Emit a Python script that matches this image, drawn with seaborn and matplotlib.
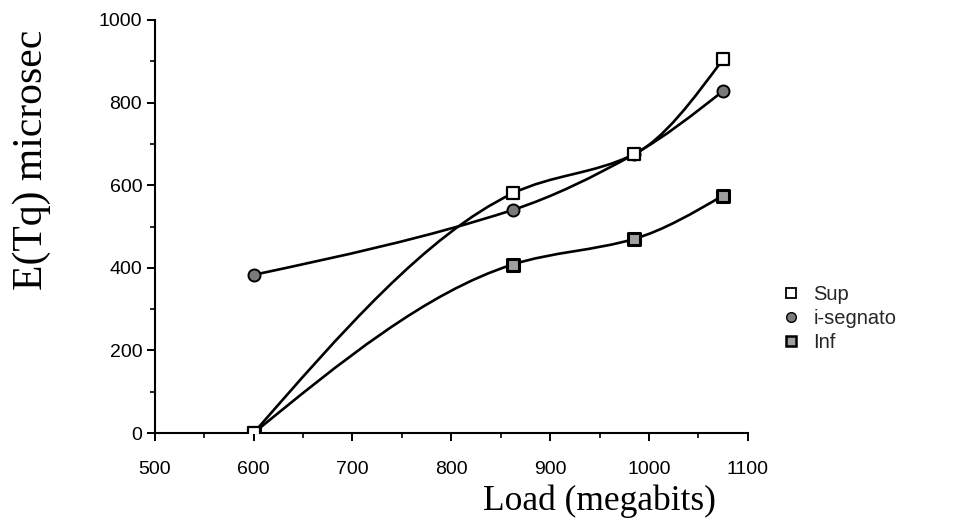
import numpy as np
import pandas as pd
import matplotlib
matplotlib.use("Agg")
import matplotlib.pyplot as plt
from matplotlib.path import Path
from matplotlib.patches import PathPatch
from matplotlib.lines import Line2D
from matplotlib.ticker import MultipleLocator
import seaborn as sns

# Measured queueing delay against offered load
load = [600, 862, 985, 1075]
sup = [0, 580, 675, 905]
i_segnato = [383, 540, 675, 828]
inf = [0, 408, 470, 575]
series_names = ["Sup", "i-segnato", "Inf"]

sns.set_theme(style="white")
plt.rcParams["font.family"] = ["Liberation Sans", "DejaVu Sans"]

fig = plt.figure(figsize=(9.55, 5.25), dpi=100)
ax = fig.add_axes([0.162, 0.175, 0.621, 0.787])


def smooth_path(xs, ys):
    """Piecewise cubic Hermite curve y(x) through every point, as Bezier segments."""
    x = np.asarray(xs, float)
    y = np.asarray(ys, float)
    n = len(x)
    dx = np.diff(x)
    s = np.diff(y) / dx
    m = np.zeros(n)
    for i in range(1, n - 1):
        if s[i - 1] * s[i] > 0:
            m[i] = 2 * s[i - 1] * s[i] / (s[i - 1] + s[i])
    m[0] = (3 * s[0] - m[1]) / 2
    m[-1] = (3 * s[-1] - m[-2]) / 2
    verts = [(x[0], y[0])]
    codes = [Path.MOVETO]
    for i in range(n - 1):
        h = dx[i] / 3
        verts += [(x[i] + h, y[i] + m[i] * h),
                  (x[i + 1] - h, y[i + 1] - m[i + 1] * h),
                  (x[i + 1], y[i + 1])]
        codes += [Path.CURVE4] * 3
    return Path(verts, codes)


styles = {
    "Inf": dict(y=inf, marker="s", face="#a0a0a0", lw=2.2),
    "i-segnato": dict(y=i_segnato, marker="o", face="#7a7a7a", lw=1.4),
    "Sup": dict(y=sup, marker="s", face="white", lw=1.6),
}

for name in ["Inf", "i-segnato", "Sup"]:
    st = styles[name]
    ax.add_patch(PathPatch(smooth_path(load, st["y"]), fill=False,
                           edgecolor="black", linewidth=1.9, zorder=2))
    df = pd.DataFrame({"load": load, "delay": st["y"]})
    sns.scatterplot(data=df, x="load", y="delay", ax=ax, marker=st["marker"],
                    color=st["face"], edgecolor="black", linewidth=st["lw"],
                    s=75, zorder=3, legend=False)

ax.set_xlim(500, 1100)
ax.set_ylim(0, 1000)
ax.xaxis.set_major_locator(MultipleLocator(100))
ax.xaxis.set_minor_locator(MultipleLocator(50))
ax.yaxis.set_major_locator(MultipleLocator(200))
ax.yaxis.set_minor_locator(MultipleLocator(100))

for side in ["top", "right"]:
    ax.spines[side].set_visible(False)
for side in ["left", "bottom"]:
    ax.spines[side].set_color("black")
    ax.spines[side].set_linewidth(1.5)

ax.tick_params(which="major", direction="out", length=6, width=1.4,
               colors="black", labelsize=14, bottom=True, left=True)
ax.tick_params(which="minor", direction="out", length=3.5, width=1.2,
               colors="black", bottom=True, left=True)
ax.tick_params(axis="x", pad=14)
ax.tick_params(axis="y", pad=3)

ax.set_xlabel("Load (megabits)", fontsize=25.5, family="Liberation Serif",
              color="black")
ax.xaxis.set_label_coords(0.75, -0.125)
ax.set_ylabel("E(Tq) microsec", fontsize=30, family="Liberation Serif",
              color="black")
ax.yaxis.set_label_coords(-0.175, 0.661)

handles = [
    Line2D([], [], linestyle="none", marker="s", markersize=7,
           markerfacecolor="white", markeredgecolor="black", markeredgewidth=1.3),
    Line2D([], [], linestyle="none", marker="o", markersize=7,
           markerfacecolor="#7a7a7a", markeredgecolor="black", markeredgewidth=1.0),
    Line2D([], [], linestyle="none", marker="s", markersize=7,
           markerfacecolor="#a0a0a0", markeredgecolor="black", markeredgewidth=1.8),
]
fig.legend(handles, series_names, loc="center left",
           bbox_to_anchor=(0.799, 0.393), frameon=False, fontsize=14.5,
           handletextpad=0.6, labelspacing=0.25, handlelength=1.0)

fig.savefig("out.png", dpi=100, facecolor="white")
